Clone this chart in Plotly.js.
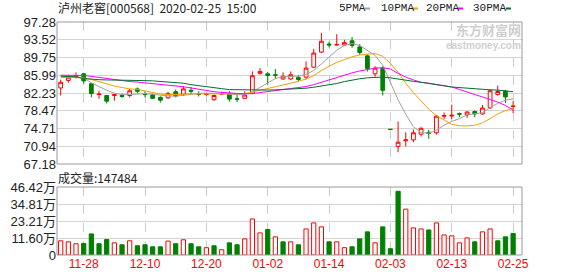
<!DOCTYPE html>
<html>
<head>
<meta charset="utf-8">
<script src="https://cdn.plot.ly/plotly-3.0.1.min.js"></script>
<style>
html,body{margin:0;padding:0;background:#ffffff;}
#chart{width:578px;height:276px;}
</style>
</head>
<body>
<div id="chart"></div>
<script>
// ---------------- data ----------------
const dates = [
 '2019-11-25','2019-11-26','2019-11-27','2019-11-28','2019-11-29',
 '2019-12-02','2019-12-03','2019-12-04','2019-12-05','2019-12-06',
 '2019-12-09','2019-12-10','2019-12-11','2019-12-12','2019-12-13',
 '2019-12-16','2019-12-17','2019-12-18','2019-12-19','2019-12-20',
 '2019-12-23','2019-12-24','2019-12-25','2019-12-26','2019-12-27',
 '2019-12-30','2019-12-31','2020-01-02','2020-01-03','2020-01-06',
 '2020-01-07','2020-01-08','2020-01-09','2020-01-10','2020-01-13',
 '2020-01-14','2020-01-15','2020-01-16','2020-01-17','2020-01-20',
 '2020-01-21','2020-01-22','2020-01-23','2020-02-03','2020-02-04',
 '2020-02-05','2020-02-06','2020-02-07','2020-02-10','2020-02-11',
 '2020-02-12','2020-02-13','2020-02-14','2020-02-17','2020-02-18',
 '2020-02-19','2020-02-20','2020-02-21','2020-02-24','2020-02-25'
];
const open = [
 83.3,84.9,85.7,86.3,84.2,81.9,81.7,81.7,81.7,81.7,
 83.1,82.0,81.9,81.3,81.2,82.5,82.0,82.8,82.05,81.9,
 80.8,82.0,82.1,81.0,81.1,82.2,86.4,86.3,86.1,85.2,
 85.2,85.5,85.6,87.7,90.9,92.6,92.4,92.4,93.3,92.0,
 90.1,86.3,87.5,74.55,70.9,72.1,72.3,73.5,73.9,73.8,
 77.3,77.35,77.85,77.6,78.3,77.8,79.1,81.9,82.6,79.35
];
const high = [
 85.05,86.1,86.6,86.5,84.3,82.7,81.7,82.0,82.1,83.1,
 83.4,82.6,82.1,81.5,82.5,83.0,83.7,83.5,82.6,82.3,
 81.9,82.5,82.6,81.8,82.6,86.8,87.5,86.7,87.3,86.6,
 86.8,86.0,88.9,91.6,95.0,93.1,94.7,93.5,94.1,92.6,
 90.4,87.9,87.9,74.6,76.2,73.9,74.5,74.95,74.45,77.6,
 78.1,79.75,78.1,78.35,78.55,79.7,83.0,83.8,82.9,80.5
];
const low = [
 81.7,84.4,85.3,84.2,81.3,81.0,80.0,80.6,81.2,81.3,
 82.2,81.3,80.9,80.2,81.0,81.3,81.6,81.9,81.5,81.7,
 80.6,81.8,80.4,80.3,81.0,82.0,86.1,84.0,85.2,85.0,
 85.0,84.7,85.1,87.5,90.7,91.9,92.3,92.2,91.8,90.3,
 86.8,85.7,81.7,74.5,69.7,70.9,71.8,73.0,72.5,73.4,
 76.7,76.7,77.1,76.95,77.1,77.6,78.85,81.7,80.1,78.0
];
const close = [
 84.5,85.6,85.9,84.8,82.1,82.0,80.5,81.9,81.5,82.7,
 82.6,81.9,81.1,80.7,82.1,81.6,83.1,82.6,81.95,82.05,
 81.7,82.1,80.95,80.9,81.8,85.9,86.8,85.95,86.0,85.8,
 86.1,85.1,87.5,90.7,93.2,92.4,92.5,92.9,92.3,90.8,
 87.4,87.5,82.8,74.5,71.8,72.3,73.8,74.75,73.7,77.3,
 77.45,77.5,77.75,78.2,77.8,79.05,82.7,82.55,81.4,79.45
];
// volume in 万 (10k)
const volume = [
 9.7,9.0,7.7,7.9,14.4,7.7,10.6,8.3,7.0,9.7,
 6.3,7.0,5.6,5.6,9.5,7.7,10.4,7.7,5.6,5.0,
 6.3,3.6,8.3,7.0,11.0,24.6,15.1,17.4,12.4,9.0,
 9.0,7.0,17.8,21.9,19.2,9.0,9.0,5.0,5.6,11.0,
 15.8,8.3,19.2,4.3,43.5,31.3,18.5,17.8,17.1,21.9,
 13.7,13.1,8.3,11.7,9.0,15.8,17.8,9.7,12.4,14.75
];
const ma5 = [
 85.5,85.6,85.6,85.4,84.4,83.6,82.8,82.2,81.9,81.9,
 82.0,82.1,81.95,81.75,81.6,81.55,81.75,82.0,82.15,82.2,
 82.2,82.1,81.95,81.85,81.85,82.5,83.4,84.35,85.3,85.7,
 85.8,85.8,86.2,87.0,88.4,89.9,91.3,92.3,92.7,92.3,
 91.3,90.2,88.1,84.6,80.8,77.7,75.1,73.8,73.7,74.4,
 75.4,76.2,76.8,77.6,77.75,78.05,79.1,80.05,80.7,81.0
];
const ma10 = [
 85.8,85.7,85.6,85.4,85.1,84.6,84.1,83.7,83.4,83.1,
 83.0,82.7,82.3,82.0,81.9,81.85,81.95,82.05,82.1,82.1,
 82.05,82.05,82.05,82.05,82.1,82.45,82.8,83.1,83.5,83.9,
 84.3,84.7,85.2,85.9,87.0,87.9,88.7,89.3,89.9,90.3,
 90.5,90.6,90.0,88.5,86.6,84.3,82.3,80.5,78.8,77.4,
 76.5,75.6,75.3,75.25,75.4,75.9,76.8,77.8,78.5,79.0
];
const ma20 = [
 86.0,86.0,86.0,85.95,85.75,85.5,85.25,85.0,84.8,84.65,
 84.55,84.4,84.2,84.05,83.9,83.75,83.55,83.3,83.0,82.75,
 82.5,82.35,82.2,82.1,82.05,82.1,82.3,82.5,82.7,82.9,
 83.1,83.35,83.6,84.0,84.5,85.0,85.6,86.1,86.5,86.9,
 87.2,87.5,87.6,87.3,86.4,85.6,85.0,84.5,84.3,84.0,
 83.8,83.5,83.0,82.4,81.9,81.4,80.9,80.3,79.6,78.6
];
const ma30 = [
 85.8,85.75,85.65,85.3,85.1,85.05,85.0,85.0,85.0,84.95,
 84.9,84.85,84.8,84.7,84.6,84.5,84.3,84.0,83.75,83.55,
 83.35,83.15,82.95,82.9,82.85,82.85,82.85,82.85,82.9,82.95,
 83.0,83.1,83.25,83.45,83.7,83.9,84.25,84.65,85.0,85.25,
 85.45,85.6,85.6,85.45,85.15,84.9,84.7,84.5,84.3,84.0,
 83.75,83.5,83.35,83.2,83.05,82.95,82.9,82.85,82.7,82.5
];
const priceTicks = [67.18,70.94,74.71,78.47,82.23,85.99,89.75,93.52,97.28];
const volTicks = [0,11.605,23.21,34.815,46.42];
const volTickText = ['0','11.60万','23.21万','34.81万','46.42万'];
const dateTicks = ['2019-11-28','2019-12-10','2019-12-20','2020-01-02','2020-01-14','2020-02-03','2020-02-13','2020-02-25'];
const dateTickText = ['11-28','12-10','12-20','01-02','01-14','02-03','02-13','02-25'];
const stockName = '泸州老窖[000568]';
const stamp = '2020-02-25\u00a0\u00a015:00';
const volumeLabel = '成交量:147484';
const maNames = ['5PMA','10PMA','20PMA','30PMA'];

// ---------------- styles ----------------
const RED = '#ff0000', GREEN = '#008000';
const MA_COLORS = ['#a0a0a0','#f5a000','#ff00ff','#006f2e'];
const up = close.map((c,i)=> i === 0 ? true : c >= close[i-1]);

// pixel helpers (plot area: x 57..522, y 22..255)
const PL = 57, PW = 465, PB = 255, PH = 233;
const px = x => (x - PL) / PW;
const py = y => (PB - y) / PH;

const traces = [];
traces.push({
  type:'candlestick', x:dates, open:open, high:high, low:low, close:close,
  xaxis:'x', yaxis:'y',
  increasing:{line:{color:RED,width:1}, fillcolor:'#ffffff'},
  decreasing:{line:{color:GREEN,width:1}, fillcolor:GREEN},
  whiskerwidth:0, hoverinfo:'skip', showlegend:false
});
[ma5,ma10,ma20,ma30].forEach((arr,k)=>{
  traces.push({type:'scatter', mode:'lines', x:dates, y:arr, xaxis:'x', yaxis:'y',
    line:{color:MA_COLORS[k], width:1}, hoverinfo:'skip', showlegend:false});
});
traces.push({
  type:'bar', x:dates, y:volume, xaxis:'x', yaxis:'y2', width:0.55,
  marker:{color: up.map(u=> u ? '#ffffff' : GREEN), line:{color: up.map(u=> u ? RED : GREEN), width:1}},
  hoverinfo:'skip', showlegend:false
});

const FONT = 'Liberation Sans, Arial, Noto Sans CJK SC, sans-serif';
const CJK = 'Noto Sans CJK SC, sans-serif';

const annotations = [
  {xref:'paper', yref:'paper', x:px(56), y:py(8), xanchor:'left', yanchor:'middle', showarrow:false,
   text: stockName + '\u00a0\u00a0' + stamp, font:{family:CJK, size:12, color:'#222'}},
  {xref:'paper', yref:'paper', x:px(56), y:py(177), xanchor:'left', yanchor:'middle', showarrow:false,
   text: volumeLabel, font:{family:CJK, size:12, color:'#222'}},
  {xref:'paper', yref:'paper', x:1, y:py(29), xanchor:'right', yanchor:'middle', showarrow:false,
   text:'<b>东方财富网</b>', font:{family:CJK, size:13, color:'#cfcfcf'}, borderpad:0},
  {xref:'paper', yref:'paper', x:1, y:py(45), xanchor:'right', yanchor:'middle', showarrow:false,
   text:'<b>eastmoney.com</b>', font:{family:FONT, size:10, color:'#cfcfcf'}, borderpad:0}
];
const legendX = [338, 380, 425, 472];
const dashX = [365, 413, 458, 506];
const shapes = [
  {type:'rect', xref:'paper', yref:'paper', x0:0, x1:1, y0:py(164), y1:1, line:{color:'#999999', width:1}, layer:'above'},
  {type:'rect', xref:'paper', yref:'paper', x0:0, x1:1, y0:0, y1:py(187), line:{color:'#999999', width:1}, layer:'above'}
];
maNames.forEach((n,k)=>{
  annotations.push({xref:'paper', yref:'paper', x:px(legendX[k]-1), y:py(8), xanchor:'left', yanchor:'middle',
    showarrow:false, text:n, font:{family:'Liberation Mono, DejaVu Sans Mono, monospace', size:11, color:'#222'}});
  shapes.push({type:'line', xref:'paper', yref:'paper', x0:px(dashX[k]), x1:px(dashX[k]+5), y0:py(8.5), y1:py(8.5),
    line:{color:MA_COLORS[k], width:2}});
});

const layout = {
  width:578, height:276,
  margin:{l:PL, r:578-PL-PW, t:22, b:276-PB},
  paper_bgcolor:'#ffffff', plot_bgcolor:'#ffffff',
  font:{family:FONT, size:13, color:'#222'},
  showlegend:false, hovermode:false,
  xaxis:{type:'category', range:[-0.48,60.16], anchor:'y2', rangeslider:{visible:false},
    tickmode:'array', tickvals:dateTicks, ticktext:dateTickText, tickfont:{color:RED, size:12, family:FONT},
    showgrid:true, gridcolor:'#cccccc', griddash:'dash', gridwidth:1, ticks:'', showline:false, zeroline:false},
  yaxis:{domain:[py(164),1], range:[67.18,97.28], tickmode:'array', tickvals:priceTicks,
    ticktext:priceTicks.map(v=>v.toFixed(2)), gridcolor:'#d4d4d4', gridwidth:1, zeroline:false, showline:false,
    ticks:'', tickfont:{size:13, color:'#222'}},
  yaxis2:{domain:[0,py(187)], range:[0,46.42], tickmode:'array', tickvals:volTicks, ticktext:volTickText,
    gridcolor:'#d4d4d4', gridwidth:1, zeroline:false, showline:false, ticks:'', tickfont:{size:13, color:'#222'}},
  annotations:annotations, shapes:shapes
};

Plotly.newPlot('chart', traces, layout, {staticPlot:true, displayModeBar:false});
</script>
</body>
</html>
